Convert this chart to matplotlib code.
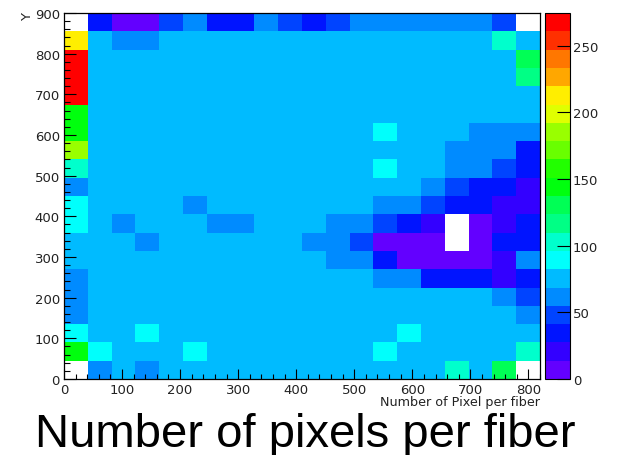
import colorsys
import numpy as np
import matplotlib
matplotlib.use("Agg")
import matplotlib.pyplot as plt
from matplotlib.colors import ListedColormap, BoundaryNorm
from matplotlib.ticker import MultipleLocator

plt.rcParams['font.family'] = ['DejaVu Sans']

X_RANGE = (0, 820)
Y_RANGE = (0, 900)
N_BINS = 20
Z_MAX = 274.5
N_CONTOURS = 20

# bin contents, first row is the top one (y = 855..900), last row is y = 0..45
counts = [
    [0, 34, 7, 7, 48, 62, 34, 34, 62, 48, 34, 48, 62, 62, 62, 62, 62, 62, 48, 0],
    [212, 76, 62, 62, 76, 76, 76, 76, 76, 76, 76, 76, 76, 76, 76, 76, 76, 76, 103, 76],
    [274, 76, 76, 76, 76, 76, 76, 76, 76, 76, 76, 76, 76, 76, 76, 76, 76, 76, 76, 131],
    [268, 76, 76, 76, 76, 76, 76, 76, 76, 76, 76, 76, 76, 76, 76, 76, 76, 76, 76, 117],
    [270, 76, 76, 76, 76, 76, 76, 76, 76, 76, 76, 76, 76, 76, 76, 76, 76, 76, 76, 76],
    [145, 76, 76, 76, 76, 76, 76, 76, 76, 76, 76, 76, 76, 76, 76, 76, 76, 76, 76, 76],
    [145, 76, 76, 76, 76, 76, 76, 76, 76, 76, 76, 76, 76, 90, 76, 76, 76, 62, 62, 62],
    [186, 76, 76, 76, 76, 76, 76, 76, 76, 76, 76, 76, 76, 76, 76, 76, 62, 62, 62, 34],
    [103, 76, 76, 76, 76, 76, 76, 76, 76, 76, 76, 76, 76, 90, 76, 76, 62, 62, 48, 34],
    [62, 76, 76, 76, 76, 76, 76, 76, 76, 76, 76, 76, 76, 76, 76, 62, 48, 34, 34, 20],
    [90, 76, 76, 76, 76, 62, 76, 76, 76, 76, 76, 76, 76, 62, 62, 48, 34, 34, 20, 20],
    [90, 76, 62, 76, 76, 76, 62, 62, 76, 76, 76, 62, 62, 48, 34, 20, 0, 7, 20, 34],
    [76, 76, 76, 62, 76, 76, 76, 76, 76, 76, 62, 62, 48, 7, 7, 7, 0, 7, 34, 34],
    [76, 76, 76, 76, 76, 76, 76, 76, 76, 76, 76, 62, 62, 34, 7, 7, 7, 7, 20, 62],
    [62, 76, 76, 76, 76, 76, 76, 76, 76, 76, 76, 76, 76, 62, 62, 34, 34, 34, 20, 34],
    [62, 76, 76, 76, 76, 76, 76, 76, 76, 76, 76, 76, 76, 76, 76, 76, 76, 76, 62, 48],
    [62, 76, 76, 76, 76, 76, 76, 76, 76, 76, 76, 76, 76, 76, 76, 76, 76, 76, 76, 62],
    [90, 76, 76, 90, 76, 76, 76, 76, 76, 76, 76, 76, 76, 76, 90, 76, 76, 76, 76, 76],
    [145, 90, 76, 76, 76, 90, 76, 76, 76, 76, 76, 76, 76, 90, 76, 76, 76, 76, 76, 103],
    [0, 62, 76, 62, 76, 76, 76, 76, 76, 76, 76, 76, 76, 76, 76, 76, 103, 76, 131, 0],
]
x_ticks = [0, 100, 200, 300, 400, 500, 600, 700, 800]
y_ticks = [0, 100, 200, 300, 400, 500, 600, 700, 800, 900]
z_ticks = [0, 50, 100, 150, 200, 250]

# violet -> red spectrum, one colour per contour level
palette = []
for i in range(N_CONTOURS):
    j = int((i + 0.99) * 50 / N_CONTOURS)
    hue = 280 - (j + 1) * 280 / 50
    palette.append(colorsys.hls_to_rgb(hue / 360.0, 0.5, 1.0))
cmap = ListedColormap(palette)
levels = np.linspace(0, Z_MAX, N_CONTOURS + 1)
norm = BoundaryNorm(levels, N_CONTOURS)

z = np.ma.masked_equal(np.array(counts, dtype=float)[::-1], 0)
x_edges = np.linspace(X_RANGE[0], X_RANGE[1], N_BINS + 1)
y_edges = np.linspace(Y_RANGE[0], Y_RANGE[1], N_BINS + 1)

W, H = 619, 456
TXT = '#222222'
fig = plt.figure(figsize=(W / 100, H / 100), dpi=100)
ax = fig.add_axes([64 / W, 76 / H, 476 / W, 366 / H])
cax = fig.add_axes([545 / W, 76 / H, 25 / W, 366 / H])

mesh = ax.pcolormesh(x_edges, y_edges, z, cmap=cmap, norm=norm)
ax.set_xlim(*X_RANGE)
ax.set_ylim(*Y_RANGE)
ax.set_xticks(x_ticks)
ax.set_yticks(y_ticks)
ax.xaxis.set_minor_locator(MultipleLocator(20))
ax.yaxis.set_minor_locator(MultipleLocator(20))
ax.tick_params(axis='x', which='major', direction='in', length=7.2, width=0.8,
               pad=3, labelsize=9.5, labelcolor=TXT)
ax.tick_params(axis='x', which='minor', direction='in', length=3.6, width=0.8)
ax.tick_params(axis='y', which='major', direction='in', length=8.6, width=0.8,
               pad=3, labelsize=9.5, labelcolor=TXT)
ax.tick_params(axis='y', which='minor', direction='in', length=4.3, width=0.8)
for s in ax.spines.values():
    s.set_linewidth(0.9)

cb = fig.colorbar(mesh, cax=cax, boundaries=levels, ticks=z_ticks)
cb.outline.set_linewidth(0.8)
cax.tick_params(axis='y', which='major', direction='in', length=9.4, width=0.8,
                pad=2, labelsize=9.5, labelcolor=TXT, right=True, left=False)
cax.minorticks_off()

fig.text(540 / W, 1 - 403 / H, "Number of Pixel per fiber", ha='right', va='center',
         fontsize=9.2, color=TXT)
fig.text(28 / W, 1 - 13 / H, "Y", rotation=90, ha='center', va='top', fontsize=9.5,
         color=TXT)
fig.text(305 / W, 1 - 447 / H, "Number of pixels per fiber", ha='center',
         va='baseline', fontsize=34, family='Liberation Sans')

fig.savefig("out.png", dpi=100)
